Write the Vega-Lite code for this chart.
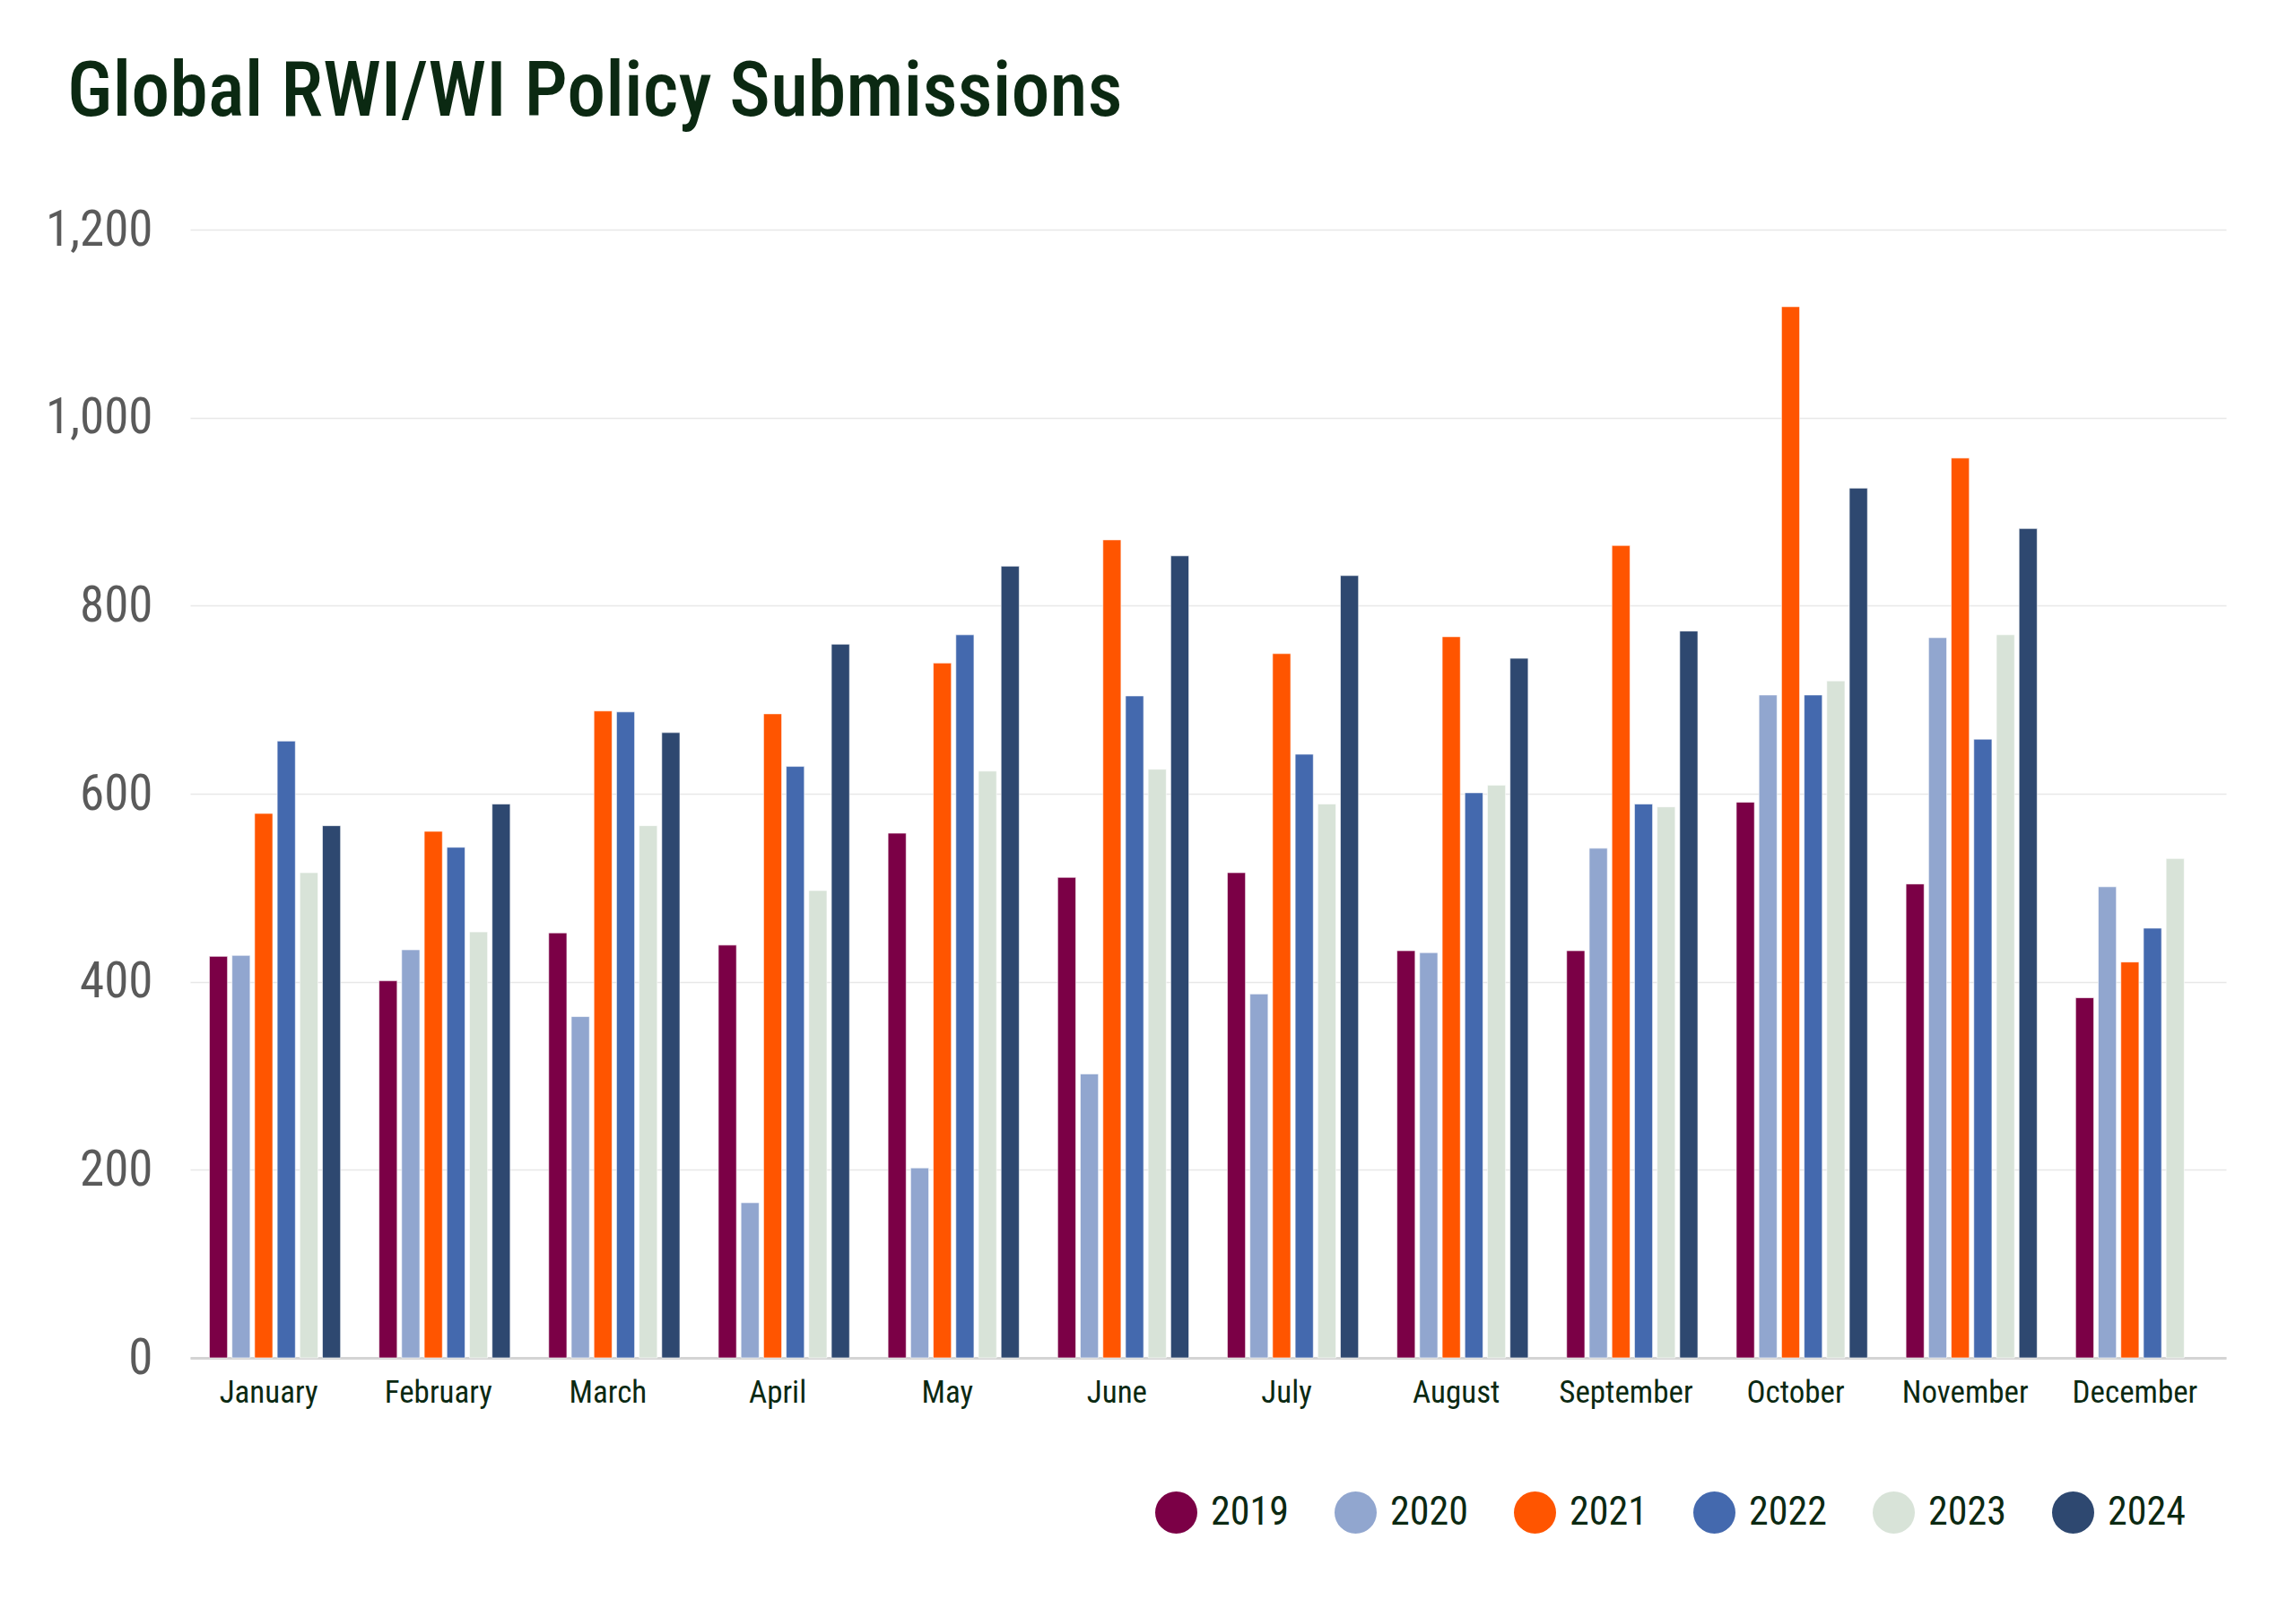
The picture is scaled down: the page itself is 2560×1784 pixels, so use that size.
{
  "$schema": "https://vega.github.io/schema/vega-lite/v6.json",
  "width": 2270,
  "height": 1258,
  "autosize": "none",
  "padding": {"left": 212, "top": 256, "right": 78, "bottom": 270},
  "background": "white",
  "title": {
    "text": "Global RWI/WI Policy Submissions",
    "anchor": "start",
    "frame": "group",
    "dx": -137,
    "offset": 82,
    "font": "Liberation Sans Narrow, Roboto Condensed, DejaVu Sans Condensed, Liberation Sans",
    "fontSize": 86,
    "fontWeight": 500,
    "color": "#0b2912"
  },
  "data": {
    "values": [
      {"month": "January", "year": "2019", "value": 427},
      {"month": "January", "year": "2020", "value": 428},
      {"month": "January", "year": "2021", "value": 579},
      {"month": "January", "year": "2022", "value": 656},
      {"month": "January", "year": "2023", "value": 516},
      {"month": "January", "year": "2024", "value": 566},
      {"month": "February", "year": "2019", "value": 401},
      {"month": "February", "year": "2020", "value": 434},
      {"month": "February", "year": "2021", "value": 560},
      {"month": "February", "year": "2022", "value": 543},
      {"month": "February", "year": "2023", "value": 453},
      {"month": "February", "year": "2024", "value": 589},
      {"month": "March", "year": "2019", "value": 452},
      {"month": "March", "year": "2020", "value": 363},
      {"month": "March", "year": "2021", "value": 688},
      {"month": "March", "year": "2022", "value": 687},
      {"month": "March", "year": "2023", "value": 566},
      {"month": "March", "year": "2024", "value": 665},
      {"month": "April", "year": "2019", "value": 439},
      {"month": "April", "year": "2020", "value": 165},
      {"month": "April", "year": "2021", "value": 685},
      {"month": "April", "year": "2022", "value": 629},
      {"month": "April", "year": "2023", "value": 497},
      {"month": "April", "year": "2024", "value": 759},
      {"month": "May", "year": "2019", "value": 558},
      {"month": "May", "year": "2020", "value": 202},
      {"month": "May", "year": "2021", "value": 739},
      {"month": "May", "year": "2022", "value": 769},
      {"month": "May", "year": "2023", "value": 624},
      {"month": "May", "year": "2024", "value": 842},
      {"month": "June", "year": "2019", "value": 511},
      {"month": "June", "year": "2020", "value": 302},
      {"month": "June", "year": "2021", "value": 870},
      {"month": "June", "year": "2022", "value": 704},
      {"month": "June", "year": "2023", "value": 626},
      {"month": "June", "year": "2024", "value": 853},
      {"month": "July", "year": "2019", "value": 516},
      {"month": "July", "year": "2020", "value": 387},
      {"month": "July", "year": "2021", "value": 749},
      {"month": "July", "year": "2022", "value": 642},
      {"month": "July", "year": "2023", "value": 589},
      {"month": "July", "year": "2024", "value": 832},
      {"month": "August", "year": "2019", "value": 433},
      {"month": "August", "year": "2020", "value": 431},
      {"month": "August", "year": "2021", "value": 767},
      {"month": "August", "year": "2022", "value": 601},
      {"month": "August", "year": "2023", "value": 609},
      {"month": "August", "year": "2024", "value": 744},
      {"month": "September", "year": "2019", "value": 433},
      {"month": "September", "year": "2020", "value": 542},
      {"month": "September", "year": "2021", "value": 864},
      {"month": "September", "year": "2022", "value": 589},
      {"month": "September", "year": "2023", "value": 586},
      {"month": "September", "year": "2024", "value": 773},
      {"month": "October", "year": "2019", "value": 591},
      {"month": "October", "year": "2020", "value": 705},
      {"month": "October", "year": "2021", "value": 1118},
      {"month": "October", "year": "2022", "value": 705},
      {"month": "October", "year": "2023", "value": 720},
      {"month": "October", "year": "2024", "value": 925},
      {"month": "November", "year": "2019", "value": 504},
      {"month": "November", "year": "2020", "value": 766},
      {"month": "November", "year": "2021", "value": 957},
      {"month": "November", "year": "2022", "value": 658},
      {"month": "November", "year": "2023", "value": 769},
      {"month": "November", "year": "2024", "value": 882},
      {"month": "December", "year": "2019", "value": 383},
      {"month": "December", "year": "2020", "value": 501},
      {"month": "December", "year": "2021", "value": 421},
      {"month": "December", "year": "2022", "value": 457},
      {"month": "December", "year": "2023", "value": 531}
    ]
  },
  "mark": {"type": "bar", "stroke": "white", "strokeWidth": 1, "strokeOpacity": 0.6},
  "encoding": {
    "x": {
      "field": "month",
      "type": "nominal",
      "sort": ["January","February","March","April","May","June","July","August","September","October","November","December"],
      "scale": {"paddingInner": 0.227, "paddingOuter": 0.1135},
      "axis": {
        "title": null,
        "labelAngle": 0,
        "ticks": false,
        "tickSize": 0,
        "labelPadding": 21,
        "labelOffset": -7,
        "labelFont": "Liberation Sans Narrow, Roboto Condensed, DejaVu Sans Condensed, Liberation Sans",
        "labelFontSize": 35,
        "labelColor": "#0b2912",
        "domainColor": "#d4d4d4",
        "domainWidth": 3,
        "grid": false
      }
    },
    "xOffset": {
      "field": "year",
      "type": "nominal",
      "scale": {"domain": ["2019","2020","2021","2022","2023","2024"], "paddingInner": 0.2, "paddingOuter": 0}
    },
    "y": {
      "field": "value",
      "type": "quantitative",
      "scale": {"domain": [0, 1200], "nice": false},
      "axis": {
        "title": null,
        "values": [0, 200, 400, 600, 800, 1000, 1200],
        "format": ",d",
        "ticks": false,
        "tickSize": 0,
        "domain": false,
        "labelPadding": 42,
        "labelFont": "Liberation Sans Narrow, Roboto Condensed, DejaVu Sans Condensed, Liberation Sans",
        "labelFontSize": 55,
        "labelColor": "#5a5a5a",
        "gridColor": "#e8e8e8",
        "gridWidth": 1.5
      }
    },
    "color": {
      "field": "year",
      "type": "nominal",
      "scale": {
        "domain": ["2019","2020","2021","2022","2023","2024"],
        "range": ["#7b0046","#91a6cf","#ff5500","#4469ae","#d8e3d8","#2e4870"]
      },
      "legend": {
        "title": null,
        "orient": "none",
        "direction": "horizontal",
        "legendX": 1076,
        "legendY": 1407,
        "symbolType": "circle",
        "symbolSize": 2209,
        "symbolStrokeWidth": 0,
        "labelFont": "Liberation Sans Narrow, Roboto Condensed, DejaVu Sans Condensed, Liberation Sans",
        "labelFontSize": 44,
        "labelColor": "#0b2912",
        "labelOffset": 15,
        "columnPadding": 51
      }
    }
  },
  "config": {
    "view": {"stroke": null}
  }
}
